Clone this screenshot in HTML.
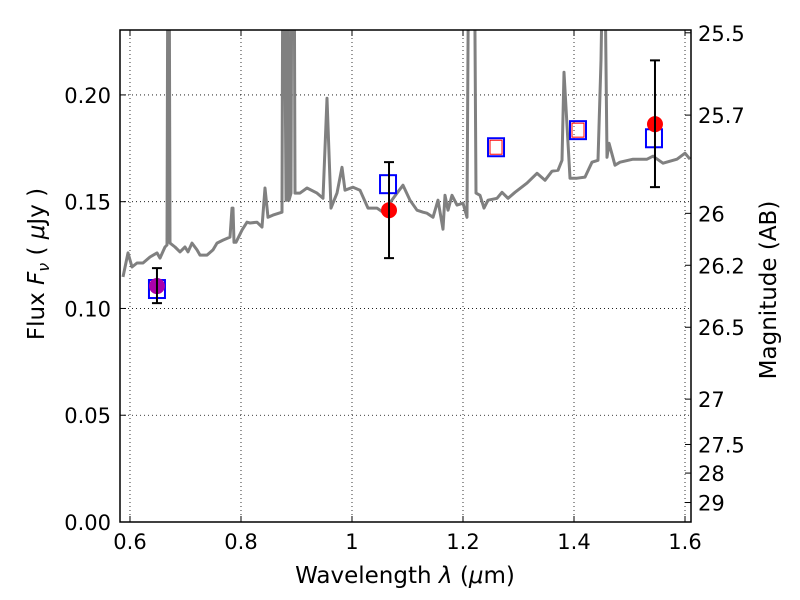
<!DOCTYPE html>
<html><head><meta charset="utf-8"><style>
html,body{margin:0;padding:0;background:#fff;}
svg{display:block;font-family:"DejaVu Sans","Liberation Sans",sans-serif;}
</style></head><body>
<svg id="chart" width="800" height="600" viewBox="0 0 800 600" xmlns="http://www.w3.org/2000/svg"></svg>
<script>
const specWave=[0.5874,0.5964,0.6036,0.6126,0.6234,0.6360,0.6486,0.6541,0.6631,0.6667,0.6685,0.6703,0.6721,0.6811,0.6901,0.6991,0.7045,0.7117,0.7207,0.7261,0.7387,0.7495,0.7568,0.7676,0.7802,0.7838,0.7856,0.7874,0.7910,0.8018,0.8108,0.8162,0.8288,0.8378,0.8432,0.8486,0.8577,0.8739,0.8757,0.8775,0.8811,0.8829,0.8847,0.8865,0.8901,0.8919,0.8955,0.8973,0.9009,0.9063,0.9189,0.9369,0.9477,0.9550,0.9622,0.9730,0.9820,0.9874,1.0018,1.0144,1.0288,1.0450,1.0559,1.0811,1.0919,1.1045,1.1171,1.1279,1.1351,1.1459,1.1550,1.1640,1.1676,1.1730,1.1802,1.1892,1.2000,1.2072,1.2108,1.2198,1.2234,1.2306,1.2378,1.2450,1.2613,1.2703,1.2811,1.2937,1.3153,1.3333,1.3477,1.3604,1.3712,1.3784,1.3820,1.3928,1.4054,1.4198,1.4324,1.4432,1.4486,1.4541,1.4595,1.4631,1.4739,1.4829,1.5063,1.5315,1.5423,1.5604,1.5856,1.6000,1.6090];
const specFlux=[0.1148,0.1260,0.1194,0.1213,0.1213,0.1241,0.1260,0.1236,0.1288,0.1297,0.30,0.30,0.1306,0.1288,0.1265,0.1288,0.1265,0.1306,0.1274,0.1250,0.1250,0.1274,0.1306,0.1320,0.1334,0.147,0.147,0.1310,0.1310,0.1367,0.1404,0.1400,0.1404,0.1381,0.1564,0.1427,0.1437,0.1451,0.30,0.30,0.1507,0.1507,0.30,0.1507,0.1540,0.30,0.30,0.1540,0.1540,0.1540,0.1564,0.1540,0.1516,0.1984,0.1470,0.1540,0.1661,0.1554,0.1568,0.1554,0.1470,0.1470,0.1451,0.1540,0.1577,0.1507,0.1460,0.1451,0.1446,0.1427,0.1507,0.1371,0.1530,0.1460,0.1530,0.1484,0.1493,0.1427,0.30,0.30,0.1540,0.1530,0.1470,0.1507,0.1516,0.1544,0.1516,0.1544,0.1587,0.1633,0.1600,0.1643,0.1647,0.1694,0.2106,0.1610,0.1610,0.1615,0.1685,0.1694,0.2162,0.30,0.1708,0.1774,0.1671,0.1685,0.1699,0.1699,0.1713,0.1680,0.1699,0.1727,0.1699];
const ptWave=[0.6486,1.0667,1.5459];
const ptFlux=[0.1105,0.1460,0.1863];
const ptErrHi=[0.1189,0.1685,0.2162];
const ptErrLo=[0.1025,0.1236,0.1568];
const ptColor=["#aa00aa","#ff0000","#ff0000"];
const sqWave=[0.6486,1.0649,1.2595,1.4072,1.5441];
const sqFlux=[0.1091,0.1582,0.1755,0.1835,0.1797];
const redSqWave=[1.2595,1.4072];
const redSqFlux=[0.1755,0.1835];
const xTicks=[0.6,0.8,1.0,1.2,1.4,1.6];
const xTickLabels=["0.6","0.8","1","1.2","1.4","1.6"];
const yTicks=[0,0.05,0.10,0.15,0.20];
const yTickLabels=["0.00","0.05","0.10","0.15","0.20"];
const magTicks=[25.5,25.7,26,26.2,26.5,27,27.5,28,29];
const magLabels=["25.5","25.7","26","26.2","26.5","27","27.5","28","29"];

const L=120,R=691,T=30,B=522,X0=0.582,X1=1.6108,Y0=0,Y1=0.2304;
const sx=v=>L+(v-X0)/(X1-X0)*(R-L);
const sy=v=>B-(v-Y0)/(Y1-Y0)*(B-T);
const svg=document.getElementById('chart');
const NS="http://www.w3.org/2000/svg";
function mk(tag,attrs,parent){const e=document.createElementNS(NS,tag);for(const k in attrs)e.setAttribute(k,attrs[k]);(parent||svg).appendChild(e);return e;}

const defs=mk('defs',{});
const cp=mk('clipPath',{id:'clip'},defs);
mk('rect',{x:L,y:T,width:R-L,height:B-T},cp);

xTicks.forEach(v=>{const g=mk('line',{x1:sx(v),x2:sx(v),y1:T,y2:B,stroke:'#000','stroke-width':0.8,'stroke-dasharray':'1,3'});

});
yTicks.forEach(v=>{const g=mk('line',{x1:L,x2:R,y1:sy(v),y2:sy(v),stroke:'#000','stroke-width':0.8,'stroke-dasharray':'1,3'});

});

const pts=specWave.map((w,i)=>sx(w).toFixed(1)+','+sy(specFlux[i]).toFixed(1)).join(' ');
const sp=mk('polyline',{points:pts,fill:'none',stroke:'#808080','stroke-width':3,'clip-path':'url(#clip)','stroke-linejoin':'round'});



sqWave.forEach((w,i)=>{const s=mk('rect',{x:sx(w)-8,y:sy(sqFlux[i])-9,width:16,height:18,fill:'none',stroke:'#0000ff','stroke-width':2});

});
redSqWave.forEach((w,i)=>{const s=mk('rect',{x:sx(w)-6,y:sy(redSqFlux[i])-7,width:12,height:14,fill:'none',stroke:'#ff0000','stroke-width':1});

});

ptWave.forEach((w,i)=>{
const x=sx(w);
const c=mk('circle',{cx:x,cy:sy(ptFlux[i]),r:8,fill:ptColor[i]});


const e=mk('path',{d:`M${x},${sy(ptErrHi[i])}V${sy(ptErrLo[i])}M${x-5},${sy(ptErrHi[i])}H${x+5}M${x-5},${sy(ptErrLo[i])}H${x+5}`,stroke:'#000','stroke-width':2,fill:'none'});


});

const fr=mk('rect',{x:L,y:T,width:R-L,height:B-T,fill:'none',stroke:'#000','stroke-width':1.5});



xTicks.forEach((v,i)=>{const x=sx(v);
mk('path',{d:`M${x},${B}v-6M${x},${T}v6`,stroke:'#000','stroke-width':1});
const t=mk('text',{x:x,y:B+27,'font-size':21,'text-anchor':'middle'});t.textContent=xTickLabels[i];

});
yTicks.forEach((v,i)=>{const y=sy(v);
mk('path',{d:`M${L},${y}h6`,stroke:'#000','stroke-width':1});
const t=mk('text',{x:L-9,y:y+8,'font-size':21,'text-anchor':'end'});t.textContent=yTickLabels[i];

});
magTicks.forEach((m,i)=>{const y=sy(Math.pow(10,(23.9-m)/2.5));
mk('path',{d:`M${R},${y}h-6`,stroke:'#000','stroke-width':1});
const t=mk('text',{x:R+7,y:y+8,'font-size':21});t.textContent=magLabels[i];

});

const xt=mk('text',{x:405,y:583,'font-size':23,'text-anchor':'middle'});
xt.setAttribute('xml:space','preserve');
xt.innerHTML='Wavelength  <tspan font-style="italic">λ</tspan> (<tspan font-style="italic">μ</tspan>m)';


const yt=mk('text',{x:0,y:0,'font-size':23,'text-anchor':'middle',transform:'translate(44,264) rotate(-90)'});
yt.setAttribute('xml:space','preserve');
yt.innerHTML='Flux  <tspan font-style="italic">F</tspan><tspan font-style="italic" font-size="16" dy="5">ν</tspan><tspan dy="-5">  ( </tspan><tspan font-style="italic">μ</tspan>Jy )';


const rt=mk('text',{x:0,y:0,'font-size':23,'text-anchor':'middle',transform:'translate(776,290) rotate(-90)'});
rt.textContent='Magnitude (AB)';


</script>
</body></html>
